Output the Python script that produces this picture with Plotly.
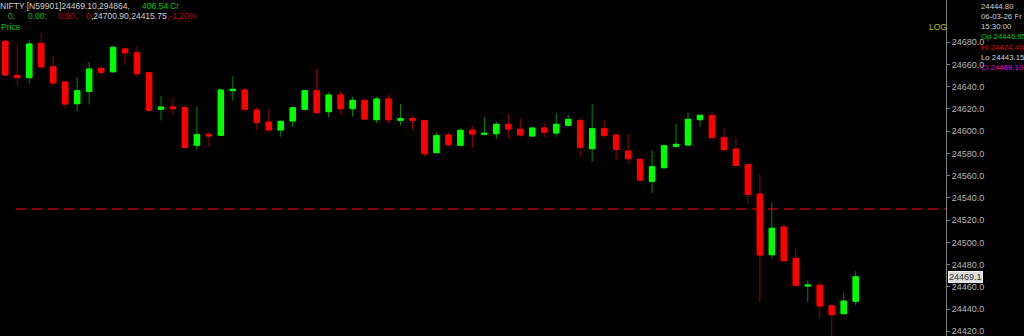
import plotly.graph_objects as go

# ---- data (5-min candles, NIFTY) ----
opens = [24680.9, 24650.3, 24648.2, 24679.1, 24658.0, 24644.3, 24624.8, 24635.9, 24656.6, 24653.5,
         24674.0, 24670.6, 24652.6, 24619.7, 24621.8, 24621.2, 24587.3, 24597.2, 24596.3, 24636.5,
         24637.1, 24619.1, 24608.3, 24601.1, 24609.2, 24619.7, 24636.5, 24617.6, 24632.6, 24620.3,
         24627.8, 24610.4, 24629.0, 24609.8, 24611.3, 24609.5, 24580.7, 24596.6, 24587.3, 24600.8,
         24597.2, 24597.8, 24606.2, 24601.7, 24595.7, 24602.9, 24598.4, 24605.3, 24609.5, 24584.3,
         24602.3, 24596.6, 24582.2, 24574.7, 24554.9, 24567.2, 24586.4, 24587.6, 24610.4, 24614.3,
         24594.2, 24584.0, 24569.9, 24543.5, 24488.9, 24513.8, 24485.7, 24460.7, 24461.4, 24443.0,
         24435.8, 24446.95]
highs = [24681.8, 24677.8, 24682.1, 24688.6, 24667.7, 24645.0, 24648.5, 24662.3, 24659.0, 24676.7,
         24674.2, 24676.7, 24653.5, 24631.7, 24630.5, 24623.9, 24622.4, 24599.6, 24638.0, 24649.7,
         24638.6, 24622.1, 24620.6, 24609.2, 24621.3, 24637.1, 24656.0, 24635.0, 24636.2, 24631.1,
         24628.1, 24631.1, 24632.6, 24624.2, 24613.7, 24609.6, 24599.0, 24599.0, 24602.6, 24604.4,
         24612.5, 24608.3, 24615.5, 24611.3, 24603.3, 24607.7, 24616.1, 24614.6, 24611.6, 24624.8,
         24609.2, 24597.0, 24597.5, 24575.0, 24582.8, 24587.1, 24606.5, 24617.0, 24615.2, 24617.6,
         24603.5, 24593.6, 24570.1, 24560.9, 24535.7, 24516.5, 24494.0, 24465.9, 24464.3, 24444.3,
         24454.7, 24474.40]
lows = [24650.0, 24641.0, 24642.8, 24657.5, 24640.1, 24620.0, 24618.2, 24624.2, 24650.0, 24652.4,
        24659.8, 24648.8, 24618.5, 24609.8, 24614.9, 24585.0, 24583.1, 24585.5, 24596.0, 24627.5,
        24617.0, 24601.1, 24600.7, 24595.1, 24603.8, 24619.5, 24616.4, 24612.5, 24615.2, 24613.1,
        24610.5, 24607.4, 24606.8, 24605.3, 24601.4, 24577.4, 24580.4, 24586.1, 24587.0, 24585.2,
        24597.0, 24593.3, 24593.3, 24595.1, 24595.5, 24594.5, 24595.1, 24604.7, 24577.7, 24572.6,
        24593.3, 24573.5, 24570.5, 24554.3, 24544.4, 24566.0, 24586.2, 24586.4, 24604.1, 24593.3,
        24582.2, 24569.2, 24534.8, 24446.1, 24485.3, 24482.6, 24460.1, 24446.1, 24431.7, 24415.75,
        24435.6, 24443.15]
closes = [24650.6, 24648.2, 24678.5, 24657.8, 24643.4, 24624.5, 24636.5, 24656.0, 24653.0, 24675.5,
          24670.6, 24651.7, 24618.8, 24621.8, 24620.3, 24585.5, 24596.9, 24595.7, 24637.1, 24637.7,
          24619.7, 24608.0, 24601.1, 24608.9, 24621.2, 24636.5, 24616.7, 24632.6, 24620.3, 24627.8,
          24611.0, 24629.0, 24610.4, 24611.3, 24609.8, 24579.8, 24596.0, 24587.9, 24600.8, 24597.5,
          24598.1, 24606.2, 24602.0, 24596.6, 24602.9, 24599.3, 24606.2, 24610.7, 24585.5, 24602.3,
          24596.3, 24583.7, 24575.3, 24556.1, 24568.1, 24587.0, 24588.2, 24610.7, 24614.3, 24594.2,
          24583.4, 24569.3, 24543.2, 24488.6, 24512.7, 24483.5, 24461.4, 24461.6, 24442.7, 24434.9,
          24447.2, 24469.10]
bars = list(range(len(opens)))

ref_level = 24530.0
y_ticks = [24420, 24440, 24460, 24480, 24500, 24520, 24540, 24560, 24580, 24600, 24620, 24640, 24660, 24680]
y_tick_labels = [f"{v:.1f}" for v in y_ticks]

header1 = [("NIFTY [N59901]24469.10,294864,", "#d0d0d0"), ("406.54", "#00c800"), ("Cr", "#00c800")]
header2 = [("0,", "#00c000"), ("0.00:", "#00c000"), ("0.00,", "#c80000"), ("0", "#c80000"),
           (",24700.90,24415.75", "#d0d0d0"), (",-1.20%", "#c80000")]
info_lines = [("24444.80", "#d0d0d0"), ("06-03-26 Fr", "#d0d0d0"), ("15:30:00", "#d0d0d0"),
              ("Op 24446.95", "#00d000"), ("Hi 24474.40", "#e00000"),
              ("Lo 24443.15", "#d0d0d0"), ("Cl 24469.10", "#e000e0")]

# ---- layout geometry ----
W, H = 1024, 336
PLOT_W = 946
FONT = "Liberation Sans"
TXT = 8.5


def px(xp):
    return xp / PLOT_W


def py(yp):
    return 1 - yp / H


fig = go.Figure()

# wicks (dark colours)
fig.add_trace(go.Candlestick(
    x=bars, open=opens, high=highs, low=lows, close=closes,
    increasing=dict(line=dict(color="#008a00", width=1), fillcolor="#008a00"),
    decreasing=dict(line=dict(color="#980000", width=1), fillcolor="#980000"),
    whiskerwidth=0, hoverinfo="skip", showlegend=False))

# bodies (bright colours)
body_hi = [max(o, c) for o, c in zip(opens, closes)]
body_lo = [min(o, c) for o, c in zip(opens, closes)]
fig.add_trace(go.Candlestick(
    x=bars, open=opens, high=body_hi, low=body_lo, close=closes,
    increasing=dict(line=dict(color="#00ff00", width=1), fillcolor="#00ff00"),
    decreasing=dict(line=dict(color="#ff0000", width=1), fillcolor="#ff0000"),
    whiskerwidth=0, hoverinfo="skip", showlegend=False))

shapes = [dict(type="line", xref="paper", yref="y", x0=px(16), x1=1, y0=ref_level, y1=ref_level,
               line=dict(color="#8c0000", width=2, dash="10px,6px"), layer="below")]

ann = []


def add_text(xp, yp, text, color, size=TXT, yanchor="middle"):
    ann.append(dict(xref="paper", yref="paper", x=px(xp), y=py(yp), text=text, showarrow=False,
                    xanchor="left", yanchor=yanchor, align="left", borderpad=0,
                    font=dict(family=FONT, size=size, color=color)))


h1_x = [-1, 141, 169]
for (t, c), xp in zip(header1, h1_x):
    add_text(xp, 6, t, c)
h2_x = [7, 27, 57, 85, 89.5, 165.5]
for (t, c), xp in zip(header2, h2_x):
    add_text(xp, 16, t, c)
add_text(0, 27, "Price", "#00c000")
add_text(928, 26.7, "LOG", "#c0c000")

# info panel: one multi-line block, each line in its own colour
info_text = "<br>".join(f'<span style="color:{c}">{t}</span>' for t, c in info_lines)
add_text(980, 1, info_text, "#d0d0d0", size=7.8, yanchor="top")

# last price marker box
ann.append(dict(xref="paper", yref="y", x=px(948), y=closes[-1], text=f"{closes[-1]:.1f}",
                showarrow=False, xanchor="left", yanchor="middle", bgcolor="#dcdcdc",
                bordercolor="#f0f0f0", borderwidth=1, borderpad=0,
                font=dict(family=FONT, size=9, color="#303030")))

fig.update_layout(
    width=W, height=H,
    margin=dict(l=0, r=W - PLOT_W, t=0, b=0),
    paper_bgcolor="#000000", plot_bgcolor="#000000",
    showlegend=False, boxgap=0.36,
    xaxis=dict(visible=False, range=[-0.44, 78.54], rangeslider=dict(visible=False)),
    yaxis=dict(side="right", range=[24415.76, 24718.06], tickvals=y_ticks, ticktext=y_tick_labels,
               showgrid=False, zeroline=False, showline=True, linecolor="#808080", linewidth=1,
               ticks="outside", ticklen=3, tickcolor="#808080", ticklabeloverflow="allow",
               tickfont=dict(family=FONT, size=9, color="#b8b8b8")),
    shapes=shapes, annotations=ann,
)

fig.write_html("out.html")
